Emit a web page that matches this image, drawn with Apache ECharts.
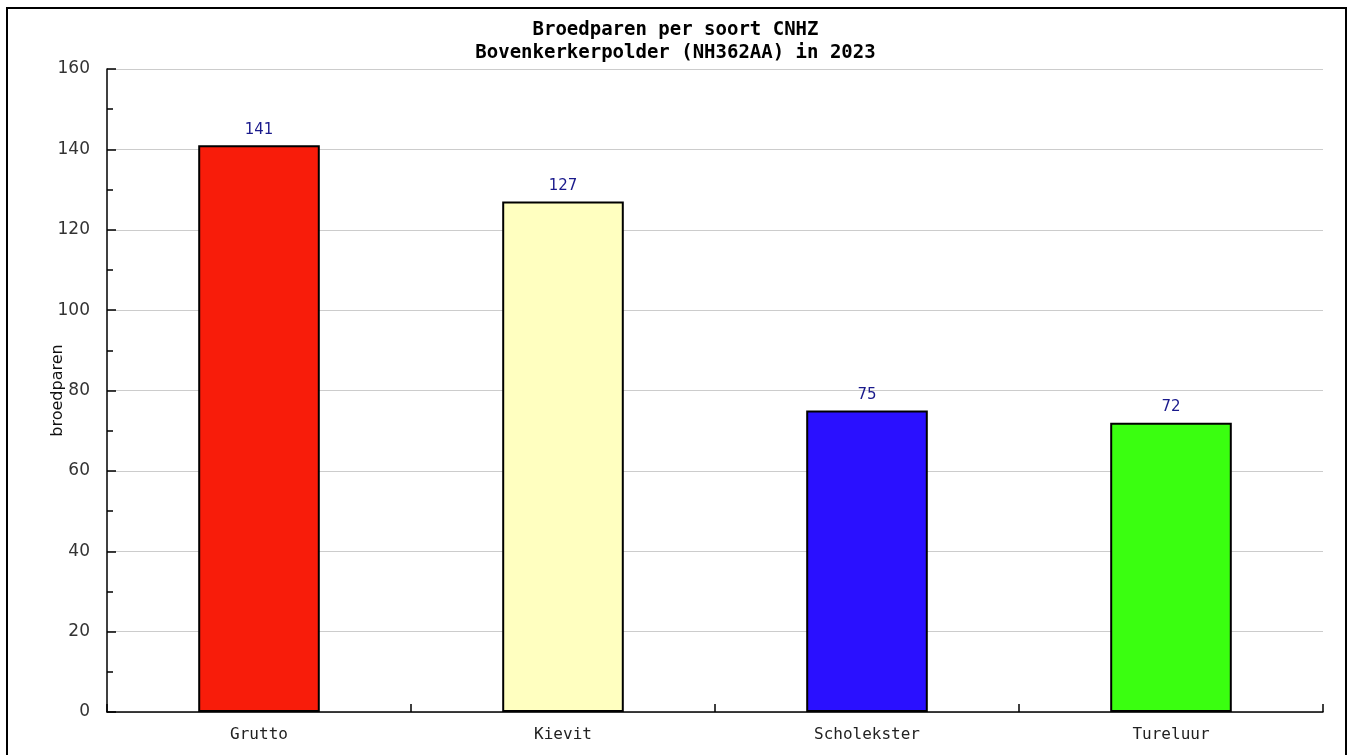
<!DOCTYPE html>
<html>
<head>
<meta charset="utf-8">
<script src="https://cdn.jsdelivr.net/npm/echarts@6/dist/echarts.min.js"></script>
<style>
html,body{margin:0;padding:0;background:#fff;}
#chart{width:1351px;height:755px;}
</style>
</head>
<body>
<div id="chart"></div>
<script>
const titleLines = ['Broedparen per soort CNHZ', 'Bovenkerkerpolder (NH362AA) in 2023'];
const categories = ['Grutto', 'Kievit', 'Scholekster', 'Tureluur'];
const values = [141, 127, 75, 72];
const barColors = ['#f81c0a', '#ffffc0', '#2a10ff', '#3aff10'];
const yAxisName = 'broedparen';
const yMin = 0, yMax = 160, yInterval = 20;

const chart = echarts.init(document.getElementById('chart'));
chart.setOption({
  animation: false,
  backgroundColor: '#fff',
  title: {
    text: titleLines.join('\n'),
    left: 'center',
    top: 14,
    textStyle: {
      fontFamily: 'DejaVu Sans Mono',
      fontWeight: 'bold',
      fontSize: 19,
      lineHeight: 23,
      color: '#000'
    }
  },
  graphic: [{
    type: 'rect',
    shape: { x: 7, y: 8, width: 1339, height: 770 },
    style: { fill: 'none', stroke: '#000', lineWidth: 2 },
    silent: true
  }],
  grid: { left: 107, right: 28, top: 69, bottom: 43, containLabel: false },
  xAxis: {
    type: 'category',
    data: categories,
    boundaryGap: true,
    axisLine: { lineStyle: { color: '#000', width: 1.5 } },
    axisTick: { show: true, inside: true, length: 8, lineStyle: { color: '#000', width: 1.5 } },
    axisLabel: { fontFamily: 'DejaVu Sans Mono', fontSize: 16, color: '#222', margin: 15 },
    splitLine: { show: false }
  },
  yAxis: {
    type: 'value',
    min: yMin, max: yMax, interval: yInterval,
    name: yAxisName,
    nameLocation: 'middle',
    nameGap: 41,
    nameMoveOverlap: false,
    nameRotate: 90,
    nameTextStyle: { fontFamily: 'DejaVu Sans', fontSize: 16, color: '#111' },
    axisLine: { show: true, lineStyle: { color: '#000', width: 1.5 } },
    axisTick: { show: true, inside: true, length: 9, lineStyle: { color: '#000', width: 1.5 } },
    minorTick: { show: true, splitNumber: 2, length: 6, lineStyle: { color: '#000', width: 1.5 } },
    axisLabel: { fontFamily: 'DejaVu Sans', fontSize: 17, color: '#333', margin: 17 },
    splitLine: { show: true, lineStyle: { color: '#cccccc', width: 1 } }
  },
  series: [{
    type: 'bar',
    data: values.map((v, i) => ({ value: v, itemStyle: { color: barColors[i] } })),
    barWidth: '40%',
    itemStyle: { borderColor: '#000', borderWidth: 2 },
    label: {
      show: true,
      position: 'top',
      distance: 8,
      fontFamily: 'DejaVu Sans',
      fontSize: 15,
      color: '#1a1a8c'
    }
  }]
});
</script>
</body>
</html>
